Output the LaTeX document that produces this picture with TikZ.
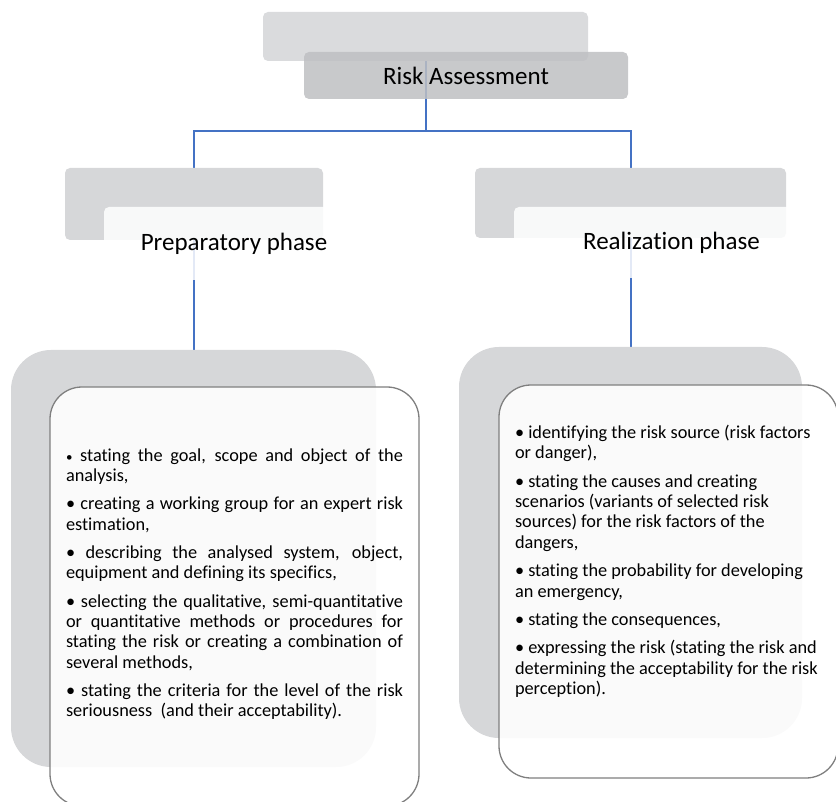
\documentclass[tikz,border=0pt]{standalone}
\usepackage{fontspec}
\setmainfont{Carlito}[Ligatures=NoCommon]
\definecolor{connblue}{RGB}{68,114,196}
\definecolor{topback}{RGB}{218,219,221}
\definecolor{topfront}{RGB}{190,191,194}
\definecolor{backgray}{RGB}{214,215,217}
\definecolor{framegray}{RGB}{127,127,127}
\pgfdeclarelayer{bg}
\pgfsetlayers{bg,main}
\newcommand{\bodyfont}{\fontsize{18.3}{20.4}\selectfont}
\newcommand{\titlefont}{\fontsize{25}{30}\selectfont}
\newcommand{\jline}[1]{\makebox[\linewidth][s]{#1}\\}
\begin{document}
\begin{tikzpicture}[x=1pt,y=-1pt,
  box/.style={rectangle, inner sep=0pt, outer sep=0pt, draw=none},
  tbackbox/.style={box, fill=topback, rounded corners=5pt},
  tfrontbox/.style={box, fill=topfront, fill opacity=0.85, text opacity=1, rounded corners=5pt, font=\titlefont},
  pbackbox/.style={box, fill=backgray, rounded corners=5pt},
  pfrontbox/.style={box, fill=white, fill opacity=0.85, text opacity=1, rounded corners=5pt, font=\titlefont},
  cbackbox/.style={box, fill=backgray, rounded corners=40pt},
  cfrontbox/.style={box, draw=framegray, line width=1.3pt, fill=white, fill opacity=0.88, rounded corners=32pt},
  bodytext/.style={anchor=base west, inner sep=0pt, outer sep=0pt},
  conn/.style={draw=connblue, line width=2pt}]
\useasboundingbox (0,0) rectangle (836,802);

% top
\node[tbackbox, minimum width=325pt, minimum height=49pt] (tb) at (425.5,36.5) {};
\node[tfrontbox, minimum width=324pt, minimum height=47pt] (tf) at (466,75.5) {Risk Assessment};

% phases
\node[pbackbox, minimum width=258pt, minimum height=72pt] (lpb) at (194,204) {};
\node[pbackbox, minimum width=311pt, minimum height=70pt] (rpb) at (630.5,203) {};

% content backs
\node[cbackbox, minimum width=365pt, minimum height=417pt] (lcb) at (193.5,558.5) {};
\node[cbackbox, minimum width=343pt, minimum height=391pt] (rcb) at (630.5,542.5) {};

% phase fronts
\node[pfrontbox, minimum width=260pt, minimum height=73pt] (lpf) at (234,243.5) {Preparatory phase};
\node[pfrontbox, minimum width=315pt, minimum height=71pt] (rpf) at (671.5,242.5) {Realization phase};

% content fronts
\node[cfrontbox, minimum width=369pt, minimum height=419pt] (lcf) at (234.5,596.5) {};
\node[cfrontbox, minimum width=339pt, minimum height=393pt] (rcf) at (668.5,581.5) {};

\coordinate (bus) at (425.5,131);

\begin{pgfonlayer}{bg}
\draw[conn] (tb.center) -- (bus);
\draw[conn] (lcb.north) |- (bus) -| (rcb.north);
\end{pgfonlayer}

% texts
\node[bodytext] (ltext) at (66,461) {\begin{minipage}[t]{337pt}\bodyfont
\setlength{\parindent}{0pt}\setlength{\parskip}{7.9pt}%
\jline{{\fontsize{13}{13}\selectfont •} stating the goal, scope and object of the}
analysis,\par
\jline{• creating a working group for an expert risk}
estimation,\par
\jline{• describing the analysed system, object,}
equipment and defining its specifics,\par
\jline{• selecting the qualitative, semi-quantitative}
\jline{or quantitative methods or procedures for}
\jline{stating the risk or creating a combination of}
several methods,\par
\jline{• stating the criteria for the level of the risk}
seriousness\ \ (and their acceptability).\par
\end{minipage}};

\node[bodytext] (rtext) at (515,438.5) {\begin{minipage}[t]{320pt}\bodyfont\raggedright
\setlength{\parindent}{0pt}\setlength{\parskip}{7.9pt}%
• identifying the risk source (risk factors\\
or danger),\par
• stating the causes and creating\\
scenarios (variants of selected risk\\
sources) for the risk factors of the\\
dangers,\par
• stating the probability for developing\\
an emergency,\par
• stating the consequences,\par
• expressing the risk (stating the risk and\\
determining the acceptability for the risk\\
perception).\par
\end{minipage}};
\end{tikzpicture}
\end{document}
